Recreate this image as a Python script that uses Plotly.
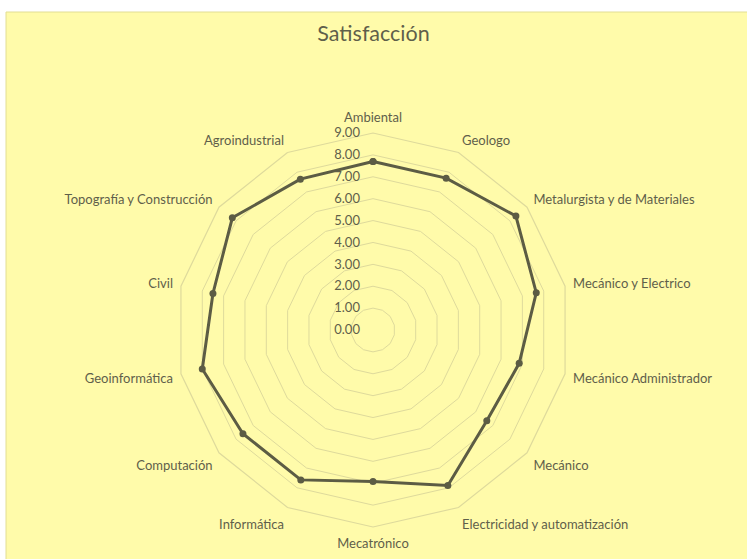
import plotly.graph_objects as go

categories = ["Ambiental", "Geologo", "Metalurgista y de Materiales", "Mecánico y Electrico",
              "Mecánico Administrador", "Mecánico", "Electricidad y automatización", "Mecatrónico",
              "Informática", "Computación", "Geoinformática", "Civil",
              "Topografía y Construcción", "Agroindustrial"]
values = [7.70, 7.70, 8.35, 7.65, 6.85, 6.65, 7.88, 6.92, 7.60, 7.60, 8.00, 7.50, 8.22, 7.65]
tick_vals = [0, 1, 2, 3, 4, 5, 6, 7, 8, 9]
tick_text = ["0.00", "1.00", "2.00", "3.00", "4.00", "5.00", "6.00", "7.00", "8.00", "9.00"]
title_text = "Satisfacción"

W, H = 747, 559
BG = "#FFFBAA"
GRID = "#DEDA9C"
TXT = "#5F5F4A"
FONT = "Lato, 'Open Sans', sans-serif"

cx, cy, R = 373, 330, 197

fig = go.Figure()
fig.add_trace(go.Scatterpolar(
    r=values + values[:1],
    theta=categories + categories[:1],
    mode="lines+markers",
    line=dict(color="#5C5C44", width=3),
    marker=dict(color="#5C5C44", size=7),
    showlegend=False,
    hoverinfo="skip",
))

fig.update_layout(
    width=W, height=H,
    margin=dict(l=0, r=0, t=0, b=0),
    paper_bgcolor="white",
    font=dict(family=FONT, color=TXT, size=13),
    title=dict(text=title_text, x=0.5, xanchor="center", y=1 - 33 / H, yanchor="middle",
               font=dict(family=FONT, size=21.5, color=TXT)),
    shapes=[dict(type="rect", xref="paper", yref="paper", x0=6 / W, x1=1.01, y0=-0.01, y1=1 - 12 / H,
                 fillcolor=BG, line=dict(color="#E2DE94", width=1), layer="below")],
    polar=dict(
        domain=dict(x=[(cx - R) / W, (cx + R) / W], y=[1 - (cy + R) / H, 1 - (cy - R) / H]),
        bgcolor=BG,
        gridshape="linear",
        radialaxis=dict(range=[0, 9], tickvals=tick_vals, ticktext=tick_text, angle=90,
                        side="counterclockwise", tickangle=90, showline=False,
                        ticks="outside", ticklen=8, tickcolor="rgba(0,0,0,0)",
                        gridcolor=GRID, gridwidth=1.2,
                        tickfont=dict(family=FONT, size=13, color=TXT)),
        angularaxis=dict(rotation=90, direction="clockwise", showgrid=False,
                         ticks="outside", ticklen=5, tickcolor="rgba(0,0,0,0)",
                         showline=True, linecolor=GRID, linewidth=1.2,
                         tickfont=dict(family=FONT, size=13, color=TXT)),
    ),
)

fig.write_html("out.html", config={"displayModeBar": False},
               post_script="document.body.style.margin='0';")
